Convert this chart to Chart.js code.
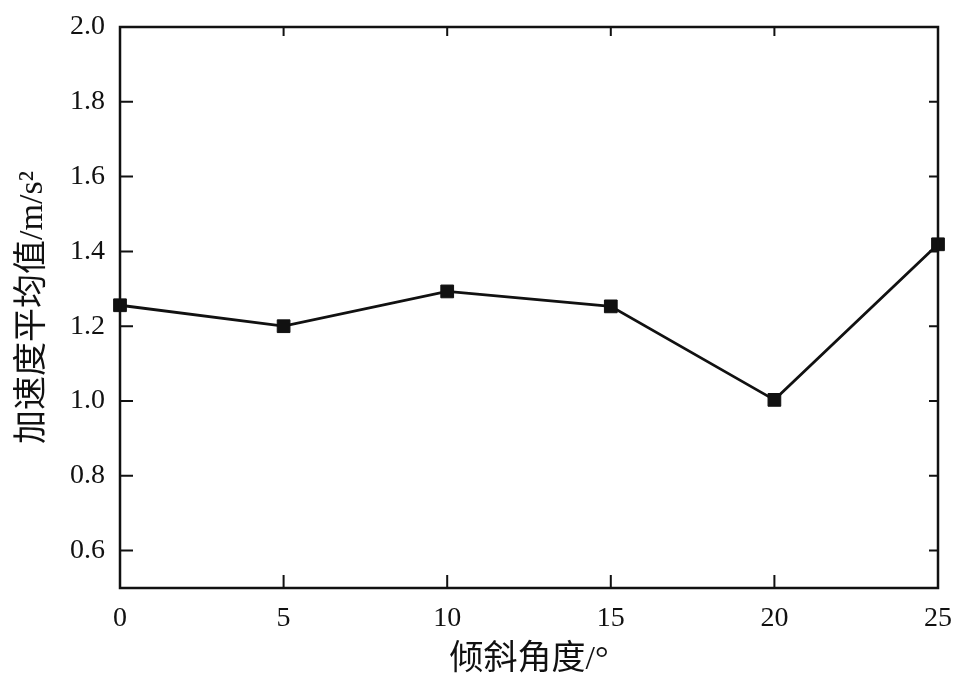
<!DOCTYPE html>
<html>
<head>
<meta charset="utf-8">
<script src="https://cdn.jsdelivr.net/npm/chart.js@4/dist/chart.umd.min.js"></script>
<style>
  html, body { margin: 0; padding: 0; background: #fff; }
  #wrap { width: 961px; height: 689px; }
</style>
</head>
<body>
<div id="wrap"><canvas id="chartAcel" width="961" height="689"></canvas></div>
<script>
// 倾斜角度 vs 加速度平均值
const angulos = [0, 5, 10, 15, 20, 25];
const aceleracion = [1.256, 1.200, 1.293, 1.253, 1.003, 1.419];
const ticksX = [0, 5, 10, 15, 20, 25];
const ticksY = [0.6, 0.8, 1.0, 1.2, 1.4, 1.6, 1.8, 2.0];

const fuente = "'Liberation Serif', 'Times New Roman', 'Noto Sans CJK SC', serif";

// marco y marcas hacia dentro
const marcoPlugin = {
    id: 'marco',
    afterDraw(chart) {
        const { ctx, chartArea: a, scales } = chart;
        ctx.save();
        ctx.strokeStyle = '#111';
        ctx.lineWidth = 2.5;
        ctx.strokeRect(a.left, a.top, a.right - a.left, a.bottom - a.top);
        ctx.lineWidth = 2;
        ctx.beginPath();
        ticksY.forEach(v => {
            const y = scales.y.getPixelForValue(v);
            ctx.moveTo(a.left, y); ctx.lineTo(a.left + 13, y);
            ctx.moveTo(a.right, y); ctx.lineTo(a.right - 9, y);
        });
        ticksX.forEach(v => {
            const x = scales.x.getPixelForValue(v);
            ctx.moveTo(x, a.bottom); ctx.lineTo(x, a.bottom - 13);
            ctx.moveTo(x, a.top); ctx.lineTo(x, a.top + 9);
        });
        ctx.stroke();
        ctx.restore();
    }
};

const ctxAcel = document.getElementById('chartAcel').getContext('2d');
new Chart(ctxAcel, {
    type: 'line',
    data: {
        datasets: [{
            label: '加速度平均值',
            data: angulos.map((a, i) => ({ x: a, y: aceleracion[i] })),
            borderColor: '#111',
            backgroundColor: '#111',
            borderWidth: 2.8,
            pointStyle: 'rect',
            pointRadius: 9,
            pointBorderWidth: 1,
            tension: 0,
            clip: false
        }]
    },
    options: {
        responsive: false,
        animation: false,
        layout: { padding: { left: 13, right: 23, top: 27, bottom: 9 } },
        plugins: {
            legend: { display: false },
            tooltip: { enabled: false }
        },
        scales: {
            x: {
                type: 'linear',
                min: 0,
                max: 25,
                afterBuildTicks: s => { s.ticks = ticksX.map(v => ({ value: v })); },
                afterFit: s => { s.height = 92; s.paddingLeft = 0; s.paddingRight = 0; },
                grid: { display: false, drawTicks: false },
                border: { display: false },
                ticks: { color: '#111', padding: 14, font: { family: fuente, size: 28 } },
                title: {
                    display: true,
                    text: '倾斜角度/°',
                    color: '#111',
                    padding: { top: 0, bottom: 0 },
                    font: { family: fuente, size: 34 }
                }
            },
            y: {
                type: 'linear',
                min: 0.5,
                max: 2.0,
                afterBuildTicks: s => { s.ticks = ticksY.map(v => ({ value: v })); },
                afterFit: s => { s.width = 107; s.paddingTop = 0; s.paddingBottom = 0; },
                grid: { display: false, drawTicks: false },
                border: { display: false },
                ticks: {
                    color: '#111',
                    padding: 15,
                    font: { family: fuente, size: 28 },
                    callback: v => v.toFixed(1)
                },
                title: {
                    display: true,
                    text: '加速度平均值/m/s²',
                    color: '#111',
                    padding: { top: 0, bottom: 0 },
                    font: { family: fuente, size: 34 }
                }
            }
        }
    },
    plugins: [marcoPlugin]
});
</script>
</body>
</html>
